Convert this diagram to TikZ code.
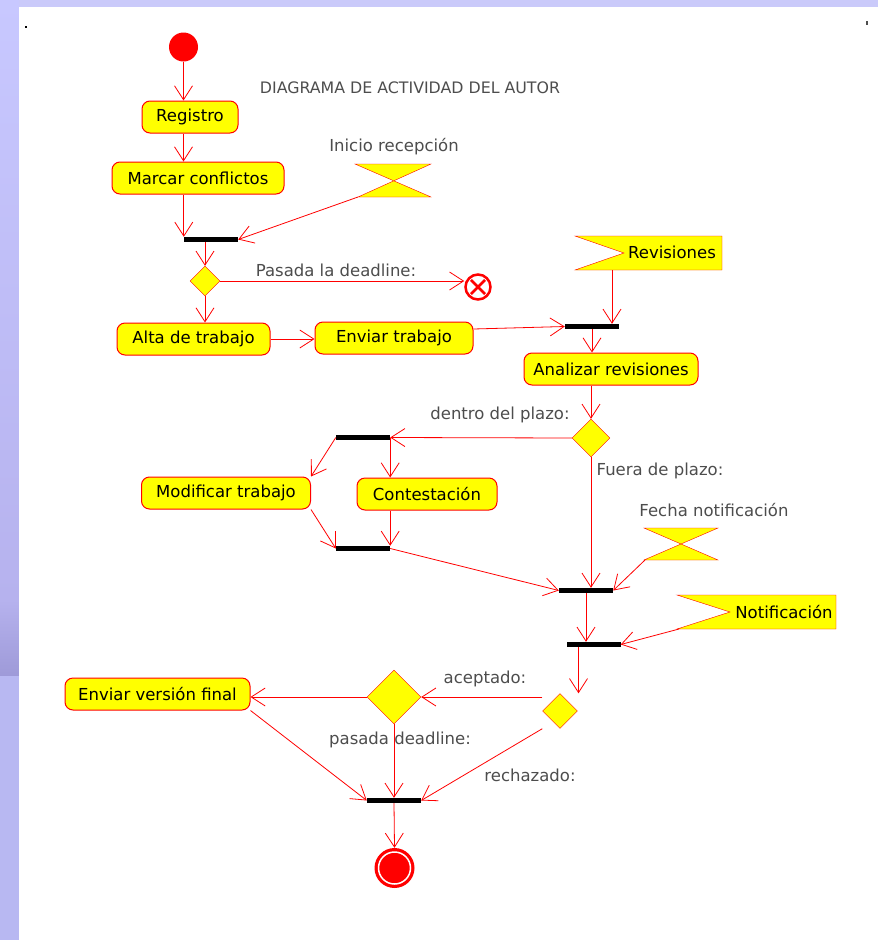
\documentclass[tikz,border=0pt]{standalone}
\usepackage{fontspec}
\setmainfont{DejaVu Sans}
\usetikzlibrary{arrows.meta,shapes.geometric}
\definecolor{amarillo}{HTML}{FFFF00}
\definecolor{rojo}{HTML}{FF0000}
\definecolor{gris}{HTML}{4D4D4D}
\definecolor{lavanda}{HTML}{CACAFA}
\definecolor{lavandaA}{HTML}{C8C8FF}
\definecolor{lavandaB}{HTML}{B6B2EE}
\definecolor{lavandaC}{HTML}{9E9AD8}
\definecolor{lavandaD}{HTML}{B8B8F2}
\newcommand{\letra}{\fontsize{16.5}{19}\selectfont}
\tikzset{
    accion/.style={draw=rojo, line width=1pt, fill=amarillo, rounded corners=8pt, minimum height=32pt, inner xsep=6pt, font=\letra},
    barra/.style={fill=black, minimum width=54pt, minimum height=5pt, inner sep=0pt},
    decision/.style={diamond, draw=rojo, fill=amarillo, inner sep=0pt},
    rotulo/.style={text=gris, font=\letra},
    senal/.style={draw=rojo, fill=amarillo},
    flecha/.style={draw=rojo, line width=0.8pt, -{Straight Barb[length=14pt, width=18pt]}}
}
\begin{document}
\begin{tikzpicture}[x=1pt, y=-1pt]
                    \useasboundingbox (0, 0) rectangle (878, 940);
                    \fill[lavanda] (0, 0) rectangle (878, 940);
                    \shade[top color=lavandaA, bottom color=lavandaB] (0, 0) rectangle (19, 600);
                    \shade[top color=lavandaB, bottom color=lavandaC] (0, 600) rectangle (19, 676);
                    \fill[lavandaD] (0, 676) rectangle (19, 940);
                    \fill[white] (19, 7) rectangle (878, 940);
                    \fill[black] (25, 26) rectangle (27, 28);
                    \fill[gris] (866, 21) rectangle (868, 25);
                    \node[text=gris, font=\fontsize{15.8}{19}\selectfont] (titulo) at (410, 88){DIAGRAMA DE ACTIVIDAD DEL AUTOR};
                    % nodos
                    \node[circle, fill=rojo, minimum size=29pt, inner sep=0pt] (inicio) at (183.5, 47){};
                    \node[accion, minimum width=96pt] (registro) at (190, 117){Registro};
                    \node[accion, minimum width=172pt] (marcar) at (198, 178){Marcar conflictos};
                    \node[barra] (barra1) at (211, 239.5){};
                    \filldraw[senal] (355, 164) -- (431, 164) -- (358, 197) -- (431, 197) -- cycle;
                    \coordinate (recepcion) at (358, 197);
                        \node[rotulo] (recepcion-txt) at (394, 147){Inicio recepción};
                    \node[decision, minimum size=30pt] (decision1) at (205, 281){};
                        \node[rotulo] (deadline-txt) at (336, 270){Pasada la deadline:};
                    \node[circle, draw=rojo, line width=2.5pt, fill=white, minimum size=25pt, inner sep=0pt] (fin) at (478, 287){};
                    \draw[rojo, line width=2.5pt] (fin.center) +(45:10pt) -- +(225:10pt);
                    \draw[rojo, line width=2.5pt] (fin.center) +(135:10pt) -- +(315:10pt);
                    \node[accion, minimum width=153pt] (alta) at (193.5, 339){Alta de trabajo};
                    \node[accion, minimum width=158pt] (enviar) at (394, 338){Enviar trabajo};
                    \filldraw[senal] (575, 236) -- (722, 236) -- (722, 270) -- (575, 270) -- (624, 253) -- cycle;
                        \node[font=\letra] (revisiones) at (672, 252){Revisiones};
                    \coordinate (revisiones-sal) at (612, 270);
                    \node[barra] (barra2) at (592, 326.5){};
                    \node[accion, minimum width=174pt] (analizar) at (611, 369){Analizar revisiones};
                    \node[decision, minimum size=38pt] (decision2) at (591, 438){};
                        \node[rotulo] (dentro-txt) at (500, 415){dentro del plazo:};
                        \node[rotulo] (fuera-txt) at (660, 471){Fuera de plazo:};
                    \node[barra] (barra3) at (363, 437.5){};
                    \node[accion, minimum width=169pt] (modificar) at (226, 493){Modificar trabajo};
                    \node[accion, minimum width=140pt] (contestacion) at (427, 494){Contestación};
                    \node[barra] (barra4) at (363, 548.5){};
                    \filldraw[senal] (644, 528) -- (718, 528) -- (644, 560) -- (718, 560) -- cycle;
                    \coordinate (fecha) at (645, 560);
                        \node[rotulo] (fecha-txt) at (714, 510){Fecha notificación};
                    \node[barra] (barra5) at (586, 590.5){};
                    \filldraw[senal] (677, 595) -- (836, 595) -- (836, 629) -- (677, 629) -- (730, 612) -- cycle;
                        \node[font=\letra] (notificacion) at (784, 612){Notificación};
                    \coordinate (notificacion-sal) at (679, 629);
                    \node[barra] (barra6) at (593.5, 644.5){};
                    \node[decision, minimum size=35pt] (decision3) at (560, 711){};
                    \node[decision, minimum size=54pt] (decision4) at (394, 697){};
                        \node[rotulo] (aceptado-txt) at (485, 679){aceptado:};
                        \node[rotulo] (pasada-txt) at (400, 740){pasada deadline:};
                        \node[rotulo] (rechazado-txt) at (530, 775){rechazado:};
                    \node[accion, minimum width=185pt] (enviarfinal) at (157.5, 694){Enviar versión final};
                    \node[barra] (barra7) at (394, 800.5){};
                    \node[circle, fill=rojo, minimum size=40pt, inner sep=0pt] (final) at (394.5, 868){};
                    \filldraw[fill=rojo, draw=white, line width=1.5pt] (final.center) circle (16pt);
                    % flechas
                    \draw[flecha] (inicio) -- (registro.north -| inicio);
                    \draw[flecha] (registro.south -| inicio) -- (marcar.north -| inicio);
                    \draw[flecha] (marcar.south -| barra1.west) -- (barra1.north west);
                    \draw[flecha] (recepcion) -- (barra1.east);
                    \draw[flecha] (barra1.south -| decision1) -- (decision1.north);
                    \draw[flecha] (decision1.east) -- (decision1.east -| fin.west);
                    \draw[flecha] (decision1.south) -- (alta.north -| decision1);
                    \draw[flecha] (alta.east) -- (alta.east -| enviar.west);
                    \draw[flecha] ([yshift=9pt]enviar.east) -- (barra2.west);
                    \draw[flecha] (revisiones-sal) -- (revisiones-sal |- barra2.north);
                    \draw[flecha] (barra2.south) -- (barra2.south |- analizar.north);
                    \draw[flecha] (analizar.south -| decision2) -- (decision2.north);
                    \draw[flecha] (decision2.west) -- (barra3.east);
                    \draw[flecha] (barra3.west) -- (modificar.north east);
                    \draw[flecha] (barra3.east) -- (barra3.east |- contestacion.north);
                    \draw[flecha] (modificar.south east) -- (barra4.west);
                    \draw[flecha] (contestacion.south -| barra4.east) -- (barra4.north east);
                    \draw[flecha] (barra4.east) -- (barra5.west);
                    \draw[flecha] (decision2.south) -- (decision2.south |- barra5.north);
                    \draw[flecha] (fecha) -- (barra5.east);
                    \draw[flecha] (barra5.south) -- (barra5.south |- barra6.north);
                    \draw[flecha] (notificacion-sal) -- (barra6.east);
                    \draw[flecha] ([xshift=-15pt]barra6.south) -- ([xshift=-15pt]barra6.south |- decision3.north);
                    \draw[flecha] (decision3.west |- decision4) -- (decision4.east);
                    \draw[flecha] (decision4.west) -- (decision4.west -| enviarfinal.east);
                    \draw[flecha] (enviarfinal.south east) -- (barra7.west);
                    \draw[flecha] (decision4.south) -- (barra7.north);
                    \draw[flecha] (decision3.west |- decision3.south) -- (barra7.east);
                    \draw[flecha] (barra7.south) -- (final.north);
                \end{tikzpicture}
\end{document}
